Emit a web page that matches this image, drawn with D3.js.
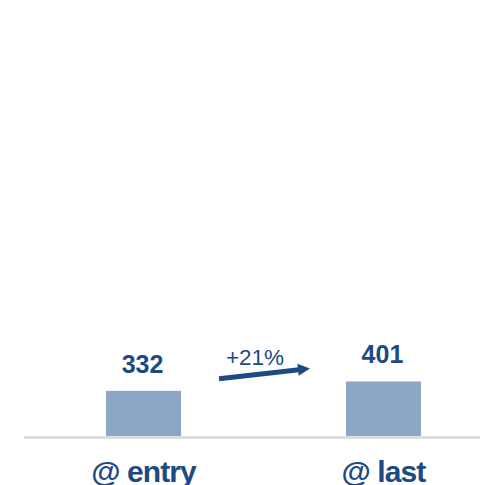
<!DOCTYPE html>
<html><head><meta charset="utf-8">
<script src="https://cdn.jsdelivr.net/npm/d3@7"></script>
<style>body{margin:0;background:#fff;}svg{display:block;font-family:"Liberation Sans",Arial,sans-serif;}</style>
</head><body>
<svg id="c" width="480" height="485"></svg>
<script>
const categories = ["@ entry", "@ last"];
const values = [332, 401];
const changeLabel = "+21%";

const svg = d3.select("#c");
const x = d3.scaleBand().domain(categories).range([24, 503]).paddingInner(0.6875).paddingOuter(0.342);
const y = d3.scaleLinear().domain([0, 3000]).range([436, 28]);
const dark = "#1d4a82";

svg.selectAll("rect.bar").data(categories).join("rect")
  .attr("class","bar")
  .attr("x", d => x(d)).attr("width", x.bandwidth())
  .attr("y", (d,i) => y(values[i])).attr("height", (d,i) => y(0) - y(values[i]))
  .attr("fill", "#8ca6c6");

svg.append("line").attr("x1", 24).attr("x2", 480).attr("y1", y(0)+1.5).attr("y2", y(0)+1.5)
  .attr("stroke", "#d9d9d9").attr("stroke-width", 2.5);

svg.selectAll("text.val").data(categories).join("text")
  .attr("class","val")
  .attr("x", d => x(d) + x.bandwidth()/2 - 1)
  .attr("y", (d,i) => y(values[i]) - 18)
  .attr("text-anchor","middle").attr("font-weight","bold").attr("font-size", 25)
  .attr("fill", dark).text((d,i) => values[i]);

svg.selectAll("text.cat").data(categories).join("text")
  .attr("class","cat")
  .attr("x", d => x(d) + x.bandwidth()/2)
  .attr("y", 482)
  .attr("text-anchor","middle").attr("font-weight","bold").attr("font-size", 30)
  .attr("letter-spacing", -0.9)
  .attr("fill", dark).text(d => d);

// growth arrow between the two bars
const x1 = x(categories[0]) + x.bandwidth() + 38;
const x2 = x(categories[1]) - 36;
const ya = y(values[0]) - 12, yb = y(values[1]) - 13;
const ang = Math.atan2(yb - ya, x2 - x1);
const headL = 12, headW = 6;
const bx = x2 - headL*Math.cos(ang), by = yb - headL*Math.sin(ang);
svg.append("line").attr("x1", x1).attr("y1", ya).attr("x2", bx + 1).attr("y2", by)
  .attr("stroke", dark).attr("stroke-width", 5);
svg.append("path")
  .attr("d", `M${x2},${yb} L${bx - headW*Math.sin(ang)},${by + headW*Math.cos(ang)} L${bx + headW*Math.sin(ang)},${by - headW*Math.cos(ang)} Z`)
  .attr("fill", dark);
svg.append("text").attr("x", 255).attr("y", 365)
  .attr("text-anchor","middle").attr("font-size", 22.5).attr("fill", dark).text(changeLabel);
</script>
</body></html>
